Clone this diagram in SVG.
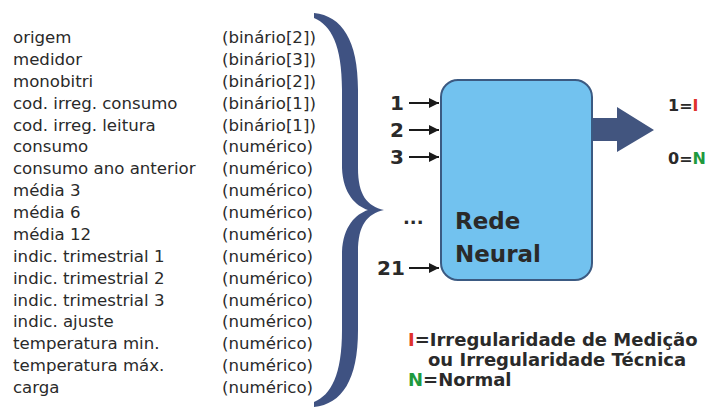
<svg xmlns="http://www.w3.org/2000/svg" width="707" height="408" viewBox="0 0 707 408">
<style>
.t{font-family:"DejaVu Sans","Liberation Sans",sans-serif;font-size:16.6px;fill:#2a2a2a}
.b{font-family:"DejaVu Sans","Liberation Sans",sans-serif;font-weight:bold;fill:#2a2a2a}
.red{fill:#e0332b}
.grn{fill:#1f9a3e}
.in{stroke:#1a1a1a;stroke-width:2;fill:none;marker-end:url(#ah)}
</style>
<defs>
<marker id="ah" viewBox="0 0 10 10" refX="10" refY="5" markerWidth="5" markerHeight="5" orient="auto" markerUnits="strokeWidth">
<path d="M0,0 L10,5 L0,10 Z" fill="#1a1a1a"/>
</marker>
</defs>
<rect width="707" height="408" fill="#ffffff"/>
<g id="inputs-list">
<text class="t" x="13" y="43">origem</text>
<text class="t" x="13" y="64.9">medidor</text>
<text class="t" x="13" y="86.8">monobitri</text>
<text class="t" x="13" y="108.6">cod. irreg. consumo</text>
<text class="t" x="13" y="130.5">cod. irreg. leitura</text>
<text class="t" x="13" y="152.4">consumo</text>
<text class="t" x="13" y="174.3">consumo ano anterior</text>
<text class="t" x="13" y="196.1">média 3</text>
<text class="t" x="13" y="218">média 6</text>
<text class="t" x="13" y="239.9">média 12</text>
<text class="t" x="13" y="261.8">indic. trimestrial 1</text>
<text class="t" x="13" y="283.6">indic. trimestrial 2</text>
<text class="t" x="13" y="305.5">indic. trimestrial 3</text>
<text class="t" x="13" y="327.4">indic. ajuste</text>
<text class="t" x="13" y="349.3">temperatura min.</text>
<text class="t" x="13" y="371.1">temperatura máx.</text>
<text class="t" x="13" y="393">carga</text>
<text class="t" x="222" y="43">(binário[2])</text>
<text class="t" x="222" y="64.9">(binário[3])</text>
<text class="t" x="222" y="86.8">(binário[2])</text>
<text class="t" x="222" y="108.6">(binário[1])</text>
<text class="t" x="222" y="130.5">(binário[1])</text>
<text class="t" x="222" y="152.4">(numérico)</text>
<text class="t" x="222" y="174.3">(numérico)</text>
<text class="t" x="222" y="196.1">(numérico)</text>
<text class="t" x="222" y="218">(numérico)</text>
<text class="t" x="222" y="239.9">(numérico)</text>
<text class="t" x="222" y="261.8">(numérico)</text>
<text class="t" x="222" y="283.6">(numérico)</text>
<text class="t" x="222" y="305.5">(numérico)</text>
<text class="t" x="222" y="327.4">(numérico)</text>
<text class="t" x="222" y="349.3">(numérico)</text>
<text class="t" x="222" y="371.1">(numérico)</text>
<text class="t" x="222" y="393">(numérico)</text>
</g>
<g id="brace">
<path fill="#3f5282" d="M314,13 C342,16 358,40 358,90 L358,168 C358,195 367,206 384,210 C367,214 358,225 358,252 L358,330 C358,380 342,404 314,407 L314,402 C331,395 342,375 342,330 L342,252 C343,226 356,214 368,210 C356,206 343,194 342,168 L342,90 C342,45 331,25 314,18 Z"/>
</g>
<g id="connectors">
<line class="in" x1="409" y1="103" x2="439" y2="103"/>
<line class="in" x1="409" y1="130" x2="439" y2="130"/>
<line class="in" x1="409" y1="157" x2="439" y2="157"/>
<line class="in" x1="409" y1="268" x2="439" y2="268"/>
<path fill="#42557f" d="M592,118 L617,118 L617,107 L654,130 L617,152 L617,141 L592,141 Z"/>
</g>
<g id="input-labels">
<text class="b" x="390" y="110" font-size="20">1</text>
<text class="b" x="390" y="137" font-size="20">2</text>
<text class="b" x="390" y="164" font-size="20">3</text>
<text class="b" x="403" y="224" font-size="18">...</text>
<text class="b" x="377" y="275" font-size="20">21</text>
</g>
<g id="rede-neural">
<rect x="441" y="80" width="151" height="200" rx="17" ry="17" fill="#72c2ef" stroke="#3b5a82" stroke-width="2"/>
<text class="b" x="455" y="229" font-size="23">Rede</text>
<text class="b" x="455" y="262" font-size="23">Neural</text>
</g>
<g id="outputs">
<text class="b" x="668" y="111" font-size="16">1=<tspan class="red">I</tspan></text>
<text class="b" x="668" y="164" font-size="16">0=<tspan class="grn">N</tspan></text>
</g>
<g id="legend">
<text class="b" x="408" y="346" font-size="18"><tspan class="red">I</tspan>=Irregularidade de Medição</text>
<text class="b" x="428" y="366" font-size="18">ou Irregularidade Técnica</text>
<text class="b" x="408" y="386" font-size="18"><tspan class="grn">N</tspan>=Normal</text>
</g>
</svg>
